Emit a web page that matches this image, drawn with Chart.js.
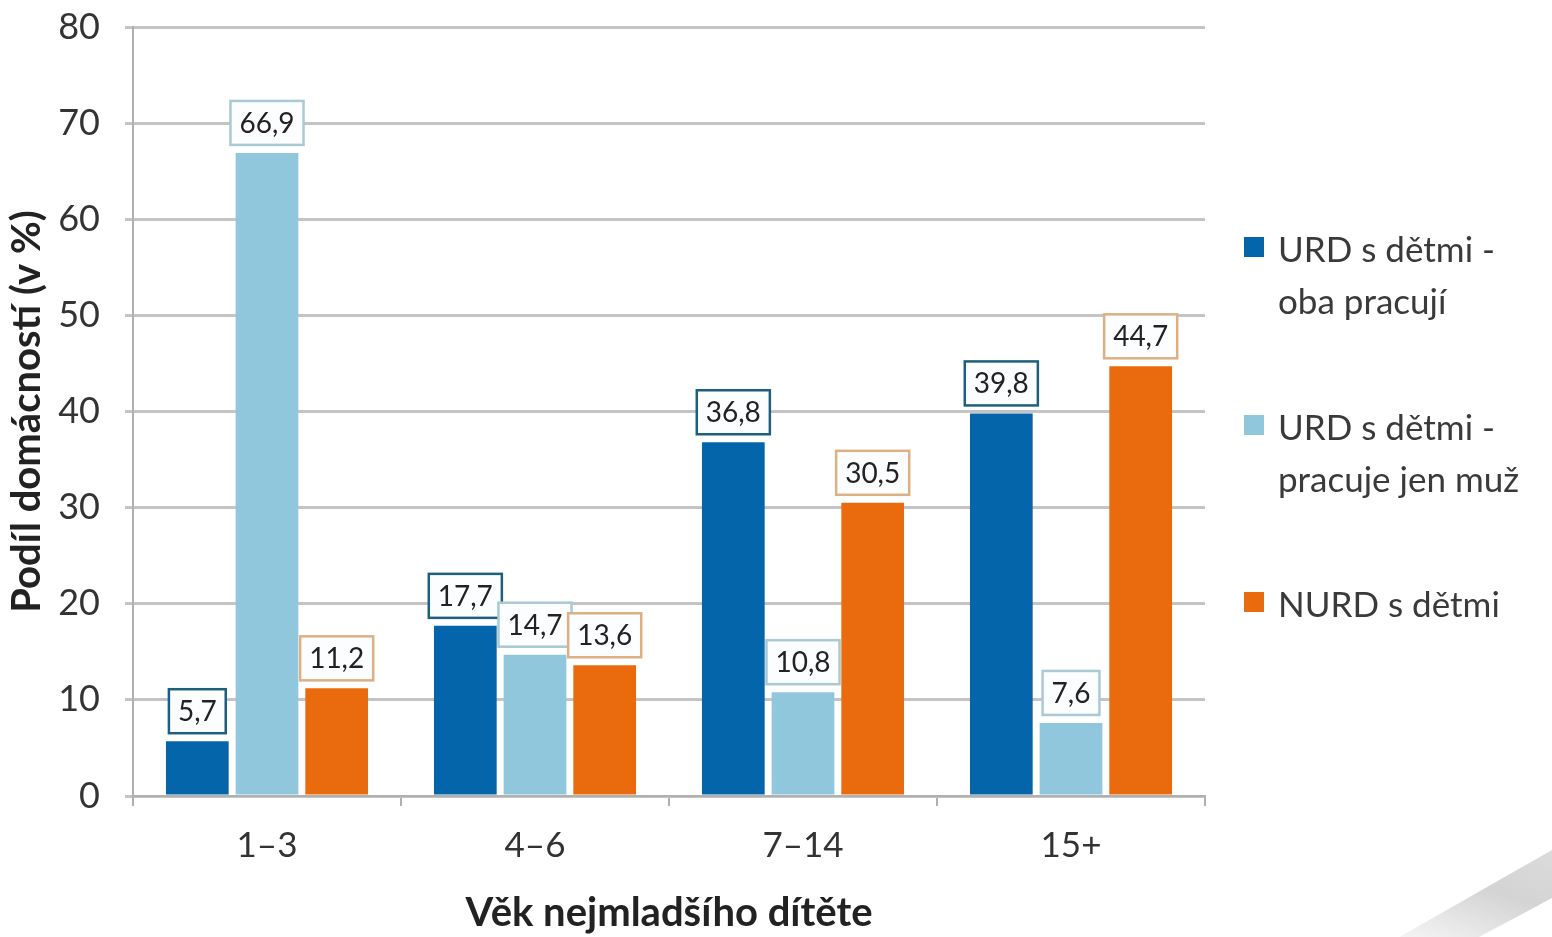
<!DOCTYPE html>
<html>
<head>
<meta charset="utf-8">
<script src="https://cdn.jsdelivr.net/npm/chart.js@4.4.1/dist/chart.umd.min.js"></script>
<style>
  html, body { margin: 0; padding: 0; background: #fff; }
  #wrap { position: relative; width: 1552px; height: 937px; overflow: hidden; background: #fff; }
  #c { position: absolute; left: 0; top: 0; }
  #legend { position: absolute; left: 1244px; top: 222px; font-family: Lato, "Open Sans", sans-serif; font-size: 35px; color: #3a3a3a; letter-spacing: 0px; }
  .item { position: absolute; left: 0; white-space: nowrap; line-height: 52px; }
  .sw { position: absolute; left: 0; top: 15px; width: 20px; height: 20px; }
  .txt { position: absolute; left: 34px; top: 0; }
  #swoosh { position: absolute; left: 1340px; top: 820px; width: 240px; height: 140px;
    background: linear-gradient(200deg, #d8d8d8 0%, #c9c9c9 45%, #f2f2f2 80%);
    clip-path: polygon(100% 10%, 100% 45%, 40% 100%, 8% 100%); opacity: 0.8; }
</style>
</head>
<body>
<div id="wrap">
  <div id="swoosh"></div>
  <canvas id="c" width="1552" height="937"></canvas>
  <div id="legend"></div>
</div>
<script>
const categories = ['1–3', '4–6', '7–14', '15+'];
const seriesNames = [['URD s dětmi -', 'oba pracují'], ['URD s dětmi -', 'pracuje jen muž'], ['NURD s dětmi']];
const urdBothWork = [5.7, 17.7, 36.8, 39.8];
const urdOnlyMan = [66.9, 14.7, 10.8, 7.6];
const nurdKids = [11.2, 13.6, 30.5, 44.7];
const yTickMin = 0;
const yTickMax = 80;
const yTickStep = 10;
const xTitle = 'Věk nejmladšího dítěte';
const yTitle = 'Podíl domácností (v %)';

const colors = ['#0565ab', '#90c7dc', '#ea6b0d'];
const labelBorders = ['#1d5f7c', '#a9c9d3', '#ddb083'];
const FONT = 'Lato, "Open Sans", sans-serif';

const valueLabels = {
  id: 'valueLabels',
  afterDatasetsDraw(chart) {
    const ctx = chart.ctx;
    ctx.save();
    ctx.font = '28px ' + FONT;
    ctx.textAlign = 'center';
    ctx.textBaseline = 'middle';
    chart.data.datasets.forEach((ds, di) => {
      const meta = chart.getDatasetMeta(di);
      meta.data.forEach((bar, i) => {
        const txt = ds.data[i].toFixed(1).replace('.', ',');
        const w = ctx.measureText(txt).width + 18;
        const h = 44;
        const x = bar.x - w / 2;
        const y = bar.y - 8 - h;
        ctx.fillStyle = '#fbfdfe';
        ctx.fillRect(x, y, w, h);
        ctx.lineWidth = 2.5;
        ctx.strokeStyle = labelBorders[di];
        ctx.strokeRect(x, y, w, h);
        ctx.fillStyle = '#222';
        ctx.fillText(txt, bar.x, y + h / 2 + 1);
      });
    });
    ctx.restore();
  }
};

const datasets = [urdBothWork, urdOnlyMan, nurdKids].map((d, i) => ({
  label: seriesNames[i].join(' '),
  data: d,
  backgroundColor: colors[i],
  borderWidth: 0,
  categoryPercentage: 0.78,
  barPercentage: 0.9
}));

new Chart(document.getElementById('c'), {
  type: 'bar',
  data: { labels: categories, datasets },
  options: {
    responsive: false,
    animation: false,
    layout: { padding: { top: 0, right: 347, left: 0, bottom: 0 } },
    plugins: { legend: { display: false }, tooltip: { enabled: false } },
    scales: {
      x: {
        grid: { offset: true, drawOnChartArea: false, color: '#b0b0b0', lineWidth: 2, tickLength: 10 },
        border: { color: '#b0b0b0', width: 2 },
        ticks: { font: { family: FONT, size: 35 }, color: '#333', padding: 19 },
        title: { display: true, text: xTitle, font: { family: FONT, size: 40, weight: 'bold' }, color: '#222', padding: { top: 4, bottom: 0 } },
        afterFit(s) { s.height = 141; }
      },
      y: {
        min: yTickMin, max: yTickMax,
        ticks: { stepSize: yTickStep, font: { family: FONT, size: 36 }, color: '#333', padding: 25 },
        grid: { color: '#c4c4c4', lineWidth: 3, tickLength: 8 },
        border: { color: '#b0b0b0', width: 2 },
        title: { display: true, text: yTitle, font: { family: FONT, size: 40, weight: 'bold' }, color: '#222', padding: { top: 3, bottom: 0 } },
        afterFit(s) { s.width = 133; s.paddingTop = 27; s.paddingBottom = 0; }
      }
    }
  },
  plugins: [valueLabels]
});

const legend = document.getElementById('legend');
const tops = [0, 178, 355];
seriesNames.forEach((lines, i) => {
  const it = document.createElement('div');
  it.className = 'item';
  it.style.top = tops[i] + 'px';
  it.innerHTML = '<div class="sw" style="background:' + colors[i] + '"></div><div class="txt">' + lines.join('<br>') + '</div>';
  legend.appendChild(it);
});
</script>
</body>
</html>
